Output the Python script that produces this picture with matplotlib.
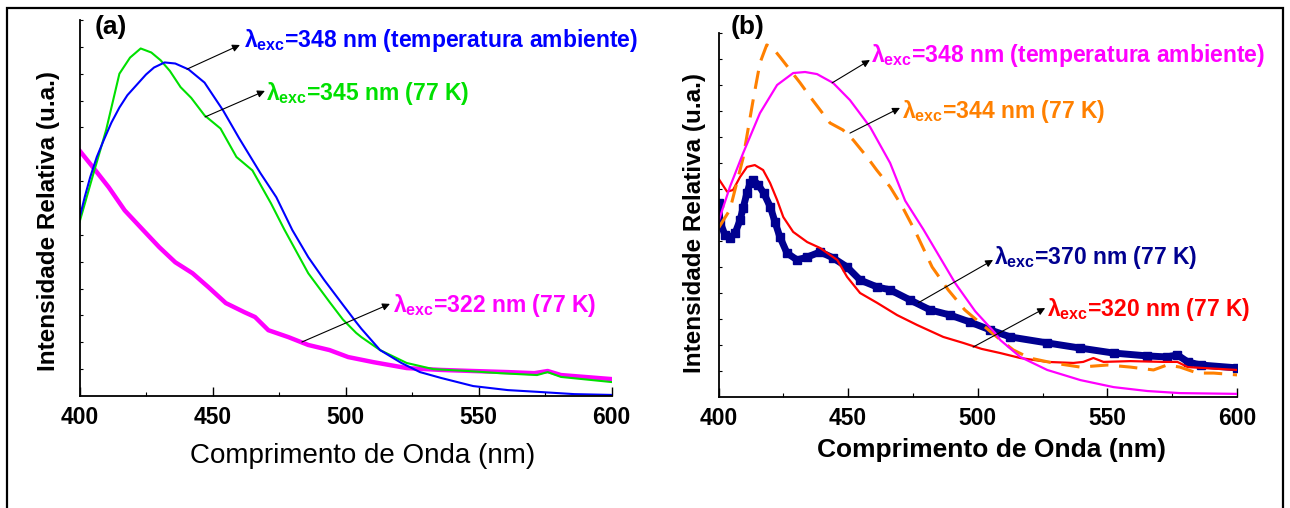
import numpy as np
import matplotlib
matplotlib.use("Agg")
import matplotlib.pyplot as plt
from matplotlib.patches import Rectangle
from matplotlib.ticker import MultipleLocator, NullFormatter

plt.rcParams['font.family'] = ['Liberation Sans', 'DejaVu Sans']
plt.rcParams['mathtext.fontset'] = 'custom'
plt.rcParams['mathtext.rm'] = 'Liberation Sans'
plt.rcParams['mathtext.bf'] = 'Liberation Sans:bold'
plt.rcParams['mathtext.it'] = 'Liberation Sans:italic'

# ---- panel (a) ----
a_blue_x = [400, 402, 404, 406.5, 409, 412, 415, 418, 422, 425, 428, 432, 436, 441, 447, 454, 460, 468, 474, 480, 486, 492, 499, 504, 506, 513, 521, 528, 536, 548, 561, 573, 586, 600]
a_blue_y = [6.62, 7.42, 8.14, 8.9, 9.5, 10.18, 10.74, 11.2, 11.64, 11.97, 12.23, 12.42, 12.38, 12.16, 11.67, 10.63, 9.6, 8.3, 7.4, 6.18, 5.17, 4.32, 3.4, 2.75, 2.5, 1.71, 1.23, 0.89, 0.67, 0.37, 0.22, 0.15, 0.07, 0.04]

a_green_x = [400, 405, 410, 415, 419, 423, 427, 430.5, 434, 438, 442, 447, 453, 459, 465, 472, 477, 486, 494, 499, 504, 506, 513, 523, 533, 546, 558, 572, 576, 581, 600]
a_green_y = [6.47, 8.2, 9.9, 12.0, 12.6, 12.94, 12.79, 12.5, 12.1, 11.5, 11.1, 10.45, 9.96, 8.9, 8.4, 7.17, 6.2, 4.57, 3.5, 2.85, 2.35, 2.19, 1.71, 1.23, 1.0, 0.93, 0.85, 0.78, 0.89, 0.71, 0.52]

a_mag_x = [400, 406, 411, 417, 424, 430, 436, 442.5, 448.5, 455, 462, 466, 471, 478.6, 486, 494, 501, 510.5, 523, 536, 548, 561, 571, 576, 581, 600]
a_mag_y = [9.14, 8.4, 7.77, 6.91, 6.17, 5.54, 4.98, 4.57, 4.05, 3.46, 3.12, 2.94, 2.45, 2.19, 1.9, 1.71, 1.45, 1.26, 1.04, 0.97, 0.93, 0.89, 0.85, 0.93, 0.78, 0.63]

# ---- panel (b) ----
b_mag_x = [400, 404.4, 409.5, 416, 422.6, 428.8, 433.4, 438, 444.2, 450.7, 458.5, 466.2, 472, 479, 491.3, 499, 506.7, 508.7, 516.4, 526.8, 539.6, 552.4, 565.4, 578, 600]
b_mag_y = [6.75, 8.08, 9.38, 10.92, 12.0, 12.46, 12.5, 12.42, 12.08, 11.42, 10.38, 9.0, 7.55, 6.45, 4.38, 3.3, 2.46, 2.19, 1.54, 1.04, 0.65, 0.38, 0.23, 0.15, 0.12]

b_orange_x = [400, 404.4, 409.5, 413.5, 416, 418.6, 420.6, 423.7, 427.6, 431.5, 435.4, 439.2, 443, 448, 452, 457.3, 461, 466.2, 471, 476, 482.4, 488.6, 495, 501.5, 507.5, 513.7, 520, 529, 539.6, 550, 558.9, 567.8, 573, 578, 584.7, 591, 600]
b_orange_y = [6.5, 7.2, 9.2, 11.5, 12.85, 13.54, 13.46, 13.08, 12.58, 12.08, 11.54, 11.04, 10.54, 10.27, 9.88, 9.23, 8.73, 8.08, 7.3, 6.35, 5.0, 4.12, 3.35, 2.8, 2.3, 1.81, 1.5, 1.31, 1.15, 1.23, 1.15, 1.04, 1.23, 1.15, 0.92, 0.92, 0.85]

b_red_x = [400, 403.3, 405.6, 408.3, 411, 414, 417.2, 419.9, 422.6, 425, 428.8, 434.2, 439.2, 445.8, 449.6, 454.6, 461.2, 468.9, 476.6, 486.7, 494.4, 501.5, 508.7, 516.4, 526.8, 536.9, 540.7, 544.6, 548.5, 558.9, 571.7, 577, 581, 600]
b_red_y = [8.4, 7.9, 7.96, 8.46, 8.85, 8.92, 8.73, 8.23, 7.58, 6.92, 6.35, 5.96, 5.73, 5.27, 4.62, 4.0, 3.62, 3.15, 2.77, 2.31, 2.08, 1.85, 1.69, 1.5, 1.35, 1.31, 1.35, 1.5, 1.35, 1.38, 1.35, 1.35, 1.15, 1.04]

b_navy_x = [400, 400.6, 402.5, 404.4, 406.4, 408.3, 409.5, 411, 412.2, 413.5, 415.4, 417.4, 420, 421.8, 423.7, 426.4, 430.3, 434.2, 439.2, 444.2, 449.6, 454.6, 461.2, 466.2, 473.9, 481.6, 489.4, 497.1, 504.8, 512.5, 526.8, 539.6, 552.4, 565.4, 573, 577, 581, 586, 600]
b_navy_y = [7.46, 6.73, 6.23, 6.12, 6.3, 6.8, 7.27, 7.85, 8.23, 8.35, 8.15, 7.85, 7.31, 6.73, 6.15, 5.54, 5.27, 5.38, 5.58, 5.35, 5.0, 4.5, 4.23, 4.12, 3.73, 3.35, 3.15, 2.88, 2.58, 2.31, 2.08, 1.88, 1.69, 1.58, 1.54, 1.62, 1.35, 1.23, 1.12]

xticks = [400, 450, 500, 550, 600]
xticklabels = ["400", "450", "500", "550", "600"]

fig = plt.figure(figsize=(12.9, 5.08), dpi=100)
ax_a = fig.add_axes([79.5 / 1290, 112 / 508, 532 / 1290, 376 / 508])
ax_b = fig.add_axes([718.5 / 1290, 111 / 508, 518.5 / 1290, 364 / 508])

for ax in (ax_a, ax_b):
    ax.spines['top'].set_visible(False)
    ax.spines['right'].set_visible(False)
    ax.spines['left'].set_linewidth(1.3)
    ax.spines['bottom'].set_linewidth(1.3)
    ax.set_xlim(400, 600)
    ax.set_ylim(0, 14)
    ax.set_xticks(xticks, labels=xticklabels, fontweight='bold', fontsize=16.5)
    ax.xaxis.set_minor_locator(MultipleLocator(25))
    ax.set_yticks(np.arange(1, 15))
    ax.yaxis.set_major_formatter(NullFormatter())
    ax.tick_params(axis='x', which='major', direction='in', length=6.5, width=1.0, pad=7)
    ax.tick_params(axis='x', which='minor', direction='in', length=3, width=0.8)
    ax.tick_params(axis='y', which='major', direction='in', length=2.5, width=0.8)
    ax.set_ylabel("Intensidade Relativa (u.a.)", fontsize=17.5, fontweight='bold')

arrow = dict(arrowstyle='-|>', color='black', lw=0.8, mutation_scale=11, shrinkA=0, shrinkB=0)
exc = r"λ$_{\mathbf{exc}}$"

# panel (a)
ax_a.plot(a_mag_x, a_mag_y, color='#FF00FF', lw=3.2)
ax_a.plot(a_green_x, a_green_y, color='#00E000', lw=1.5)
ax_a.plot(a_blue_x, a_blue_y, color='#0000FF', lw=1.5)

ax_a.annotate('', xy=(460.3, 13.07), xytext=(440.4, 12.17), arrowprops=arrow, annotation_clip=False)
ax_a.annotate('', xy=(469.7, 11.36), xytext=(447.2, 10.39), arrowprops=arrow, annotation_clip=False)
ax_a.annotate('', xy=(516.7, 3.43), xytext=(483.6, 2.01), arrowprops=arrow, annotation_clip=False)
ax_a.text(462.0, 12.99, exc + "=348 nm (temperatura ambiente)", color='#0000FF', fontsize=16.5, fontweight='bold', va='baseline', clip_on=False)
ax_a.text(470.3, 11.02, exc + "=345 nm (77 K)", color='#00E000', fontsize=16.5, fontweight='bold', va='baseline', clip_on=False)
ax_a.text(517.7, 3.13, exc + "=322 nm (77 K)", color='#FF00FF', fontsize=16.5, fontweight='bold', va='baseline', clip_on=False)

ax_a.set_xlabel("Comprimento de Onda (nm)", fontsize=20)
ax_a.xaxis.set_label_coords(0.533, -0.16)
ax_a.xaxis.label.set_va('center')
ax_a.yaxis.set_label_coords(-0.059, 0.465)
ax_a.yaxis.label.set_va('center')

# panel (b)
ax_b.plot(b_navy_x, b_navy_y, color='#000090', lw=5.0, marker='s', ms=5.5, ls='-')
ax_b.plot(b_red_x, b_red_y, color='#FF0000', lw=1.6)
ax_b.plot(b_orange_x, b_orange_y, color='#FF8000', lw=2.2, dashes=(6, 3.5))
ax_b.plot(b_mag_x, b_mag_y, color='#FF00FF', lw=1.6)

ax_b.annotate('', xy=(458.4, 12.96), xytext=(443.8, 12.08), arrowprops=arrow, annotation_clip=False)
ax_b.annotate('', xy=(470.0, 11.12), xytext=(450.7, 10.15), arrowprops=arrow, annotation_clip=False)
ax_b.annotate('', xy=(505.9, 5.27), xytext=(477.0, 3.62), arrowprops=arrow, annotation_clip=False)
ax_b.annotate('', xy=(526.0, 3.42), xytext=(498.2, 1.92), arrowprops=arrow, annotation_clip=False)
ax_b.text(459.0, 12.88, exc + "=348 nm (temperatura ambiente)", color='#FF00FF', fontsize=16.5, fontweight='bold', va='baseline', clip_on=False)
ax_b.text(470.6, 10.73, exc + "=344 nm (77 K)", color='#FF8000', fontsize=16.5, fontweight='bold', va='baseline', clip_on=False)
ax_b.text(506.4, 5.12, exc + "=370 nm (77 K)", color='#000090', fontsize=16.5, fontweight='bold', va='baseline', clip_on=False)
ax_b.text(526.9, 3.12, exc + "=320 nm (77 K)", color='#FF0000', fontsize=16.5, fontweight='bold', va='baseline', clip_on=False)

ax_b.set_xlabel("Comprimento de Onda (nm)", fontsize=19, fontweight='bold')
ax_b.xaxis.set_label_coords(0.526, -0.145)
ax_b.xaxis.label.set_va('center')
ax_b.yaxis.set_label_coords(-0.047, 0.478)
ax_b.yaxis.label.set_va('center')

fig.text(95 / 1290, 1 - 34 / 508, "(a)", fontsize=19, fontweight='bold', va='baseline')
fig.text(731 / 1290, 1 - 34 / 508, "(b)", fontsize=19, fontweight='bold', va='baseline')

# outer frame (bottom edge runs off the picture)
fig.patches.append(Rectangle((7 / 1290, -0.1), 1276 / 1290, 500 / 508 + 0.1, transform=fig.transFigure,
                             fill=False, lw=1.6, ec='black'))

plt.savefig("out.png", dpi=100)
plt.close()
